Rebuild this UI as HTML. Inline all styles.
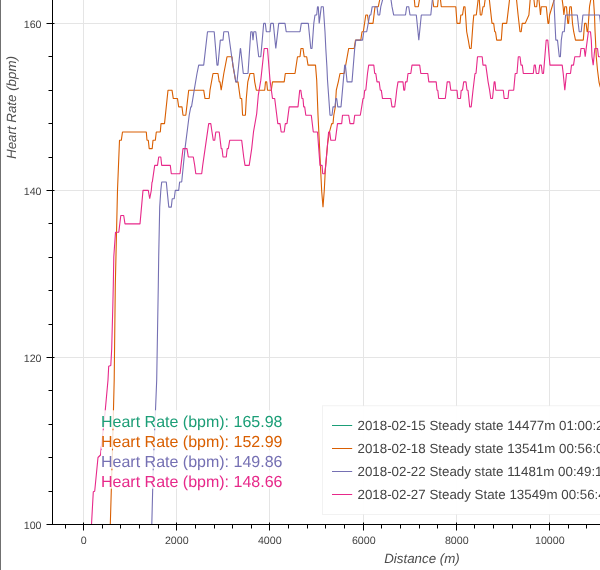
<!DOCTYPE html>
<html><head><meta charset="utf-8"><title>Heart Rate</title>
<style>
html,body{margin:0;padding:0;background:#fff;}
body{width:600px;height:570px;overflow:hidden;position:relative;font-family:"Liberation Sans",sans-serif;}
svg{position:absolute;left:0;top:0;display:block;will-change:transform;}
text{font-family:"Liberation Sans",sans-serif;text-rendering:geometricPrecision;}
</style></head><body>
<svg width="600" height="570" viewBox="0 0 600 570">
<rect x="0" y="0" width="600" height="570" fill="#ffffff"/>
<rect x="0" y="0" width="1" height="570" fill="#707070"/>
<g stroke="#e5e5e5" stroke-width="1" fill="none">
<line x1="83.50" y1="0" x2="83.50" y2="524.5"/>
<line x1="176.50" y1="0" x2="176.50" y2="524.5"/>
<line x1="269.50" y1="0" x2="269.50" y2="524.5"/>
<line x1="363.50" y1="0" x2="363.50" y2="524.5"/>
<line x1="456.50" y1="0" x2="456.50" y2="524.5"/>
<line x1="549.50" y1="0" x2="549.50" y2="524.5"/>
<line x1="642.50" y1="0" x2="642.50" y2="524.5"/>
<line x1="52.5" y1="524.50" x2="600" y2="524.50"/>
<line x1="52.5" y1="357.50" x2="600" y2="357.50"/>
<line x1="52.5" y1="190.50" x2="600" y2="190.50"/>
<line x1="52.5" y1="23.50" x2="600" y2="23.50"/>
</g>
<g fill="none" stroke-width="1.1" stroke-linejoin="bevel" stroke-linecap="butt">
<path d="M110.30,524.50 L112.50,449.00 L114.20,380.00 L115.30,285.00 L117.50,190.00 L119.50,140.31 L121.30,140.31 L122.50,131.96 L146.30,131.96 L147.00,140.31 L148.30,140.31 L149.20,148.66 L152.20,148.66 L153.00,140.31 L155.30,140.31 L156.30,131.96 L160.30,131.96 L161.00,123.60 L164.50,123.60 L168.00,90.20 L172.00,90.20 L173.30,98.55 L177.50,98.55 L178.70,106.90 L182.00,106.90 L183.00,115.25 L185.80,115.25 L188.70,90.20 L203.70,90.20 L205.00,98.55 L209.20,98.55 L210.00,90.20 L213.00,73.49 L218.00,73.49 L219.20,81.84 L220.00,81.84 L221.20,90.20 L222.50,81.84 L223.80,73.49 L227.00,56.79 L232.00,56.79 L232.80,65.14 L235.80,81.84 L238.00,81.84 L240.30,98.55 L241.70,98.55 L242.60,115.25 L245.40,115.25 L246.30,98.55 L247.80,81.84 L250.00,73.49 L253.80,73.49 L254.70,81.84 L256.30,90.20 L264.70,90.20 L265.50,81.84 L266.70,81.84 L267.50,90.20 L271.30,90.20 L272.50,81.84 L284.20,81.84 L285.30,73.49 L295.00,73.49 L297.50,56.79 L300.00,56.79 L301.00,48.44 L303.00,48.44 L304.20,56.79 L306.70,56.79 L308.00,65.14 L315.50,65.14 L316.70,80.00 L318.00,115.00 L321.70,191.30 L323.00,207.12 L324.30,190.00 L325.30,170.00 L327.70,143.00 L329.50,131.96 L331.70,123.60 L333.00,123.60 L333.80,115.25 L335.30,106.90 L336.30,90.20 L338.30,81.84 L340.00,73.49 L344.20,73.49 L348.70,48.44 L354.20,48.44 L355.50,40.08 L360.80,40.08 L362.00,31.73 L363.30,31.73 L365.80,15.03 L367.50,15.03 L368.70,23.38 L373.00,23.38 L375.00,6.68 L378.30,6.68 L380.00,-1.68 L381.00,-14.20 L413.40,-14.20 L414.20,-1.68 L415.00,6.68 L418.30,6.68 L419.70,-1.68 L420.50,-14.20 L431.70,-14.20 L432.50,-1.68 L433.70,6.68 L437.50,6.68 L438.30,-1.68 L439.30,-10.03 L440.30,-1.68 L441.30,6.68 L455.80,6.68 L457.00,23.38 L460.00,23.38 L460.80,15.03 L462.50,15.03 L463.80,6.68 L465.00,6.68 L466.70,31.73 L468.30,40.08 L469.70,48.44 L471.20,48.44 L473.00,23.38 L473.80,15.03 L476.30,15.03 L478.30,-1.68 L478.75,-4.18 L479.20,-1.68 L480.30,15.03 L481.70,15.03 L483.00,6.68 L484.20,6.68 L485.30,-1.68 L486.00,-14.20 L488.50,-14.20 L489.20,-1.68 L492.00,23.38 L493.70,23.38 L494.70,31.73 L495.50,31.73 L496.70,40.08 L501.30,40.08 L502.50,23.38 L506.70,23.38 L509.70,-1.68 L511.00,-14.20 L515.50,-14.20 L516.40,-1.68 L518.10,15.03 L520.00,31.73 L521.20,31.73 L522.20,23.38 L525.20,23.38 L528.90,15.03 L530.30,-1.68 L531.00,-14.20 L533.00,-14.20 L533.80,-1.68 L534.70,6.68 L536.70,6.68 L537.50,-1.68 L538.15,-5.85 L538.80,-1.68 L539.70,6.68 L540.50,15.03 L541.30,6.68 L546.30,6.68 L548.00,23.38 L548.80,23.38 L549.60,15.03 L554.60,-1.68 L555.50,-14.20 L561.00,-14.20 L562.00,-1.68 L563.10,6.68 L563.90,15.03 L564.80,6.68 L566.50,6.68 L567.80,23.38 L568.60,23.38 L569.80,6.68 L571.30,6.68 L572.50,23.38 L573.70,31.73 L575.50,40.08 L583.30,40.08 L584.60,23.38 L586.10,23.38 L587.10,31.73 L587.80,31.73 L589.50,6.68 L591.00,-1.68 L591.60,-14.20 L592.90,-14.20 L593.40,-1.68 L594.50,15.03 L595.00,30.00 L596.30,57.00 L597.50,70.00 L599.00,82.00 L600.00,86.00 L602.00,92.00" stroke="#d95f02"/>
<path d="M151.80,524.50 L153.30,465.00 L156.70,380.00 L158.30,285.00 L158.70,256.70 L159.70,207.12 L160.80,190.42 L161.70,182.07 L166.30,182.07 L167.10,190.42 L168.80,207.12 L171.30,207.12 L172.20,198.77 L174.20,198.77 L175.30,190.42 L178.70,190.42 L179.60,182.07 L181.70,182.07 L185.00,148.66 L189.20,115.25 L190.80,106.90 L191.50,106.90 L194.20,90.20 L197.00,73.49 L198.70,65.14 L203.70,65.14 L207.50,31.73 L214.20,31.73 L217.00,65.14 L218.00,65.14 L220.30,40.08 L223.00,40.08 L223.80,31.73 L228.30,31.73 L231.70,56.79 L235.80,81.84 L237.00,81.84 L240.30,48.44 L240.60,48.44 L243.30,73.49 L248.00,73.49 L250.80,31.73 L252.20,31.73 L253.00,40.08 L253.80,31.73 L255.80,31.73 L258.70,56.79 L260.80,56.79 L263.70,23.38 L265.30,23.38 L266.30,31.73 L270.00,31.73 L270.80,23.38 L273.30,23.38 L275.80,48.44 L278.70,23.38 L285.00,23.38 L286.20,31.73 L300.00,31.73 L301.30,23.38 L308.30,23.38 L310.80,48.44 L312.00,48.44 L313.80,23.38 L315.00,15.03 L316.70,15.03 L317.50,6.68 L318.30,6.68 L319.20,23.38 L321.30,6.68 L323.30,6.68 L325.00,31.73 L325.80,48.44 L326.90,66.70 L327.50,80.00 L330.00,115.25 L332.00,115.25 L333.00,106.90 L335.00,106.90 L335.80,98.55 L336.70,98.55 L337.80,106.90 L341.00,106.90 L344.70,65.14 L345.40,65.14 L347.10,81.84 L352.00,81.84 L354.70,48.44 L355.80,40.08 L362.50,40.08 L363.80,31.73 L366.70,31.73 L369.70,15.03 L370.80,15.03 L372.20,6.68 L377.00,6.68 L378.00,15.03 L379.70,15.03 L380.80,6.68 L383.00,-1.68 L384.00,-14.20 L390.00,-14.20 L390.80,-1.68 L392.00,6.68 L393.70,15.03 L405.50,15.03 L406.70,6.68 L408.70,6.68 L410.00,15.03 L416.30,15.03 L418.00,31.73 L418.80,40.08 L421.30,15.03 L430.80,15.03 L432.50,-1.68 L433.30,-14.20 L553.20,-14.20 L553.80,-1.68 L555.00,23.38 L555.80,40.08 L557.50,40.08 L559.30,56.79 L560.40,56.79 L561.30,40.08 L562.50,31.73 L564.30,31.73 L565.60,15.03 L577.30,15.03 L579.20,31.73 L581.20,31.73 L582.90,15.03 L599.50,15.03 L600.50,23.38 L602.00,23.38" stroke="#7570b3"/>
<path d="M91.50,524.50 L93.30,491.70 L94.70,491.20 L98.00,457.50 L100.50,455.00 L105.00,413.00 L108.00,380.00 L108.70,366.30 L110.80,365.50 L111.70,349.00 L112.80,306.70 L113.30,285.00 L113.80,256.70 L115.50,232.18 L118.80,232.18 L120.80,215.48 L123.70,215.48 L125.00,223.83 L140.00,223.83 L143.00,190.42 L148.30,190.42 L149.70,198.77 L151.30,190.42 L152.00,182.07 L152.30,182.07 L154.70,165.36 L157.50,165.36 L158.70,157.01 L160.80,157.01 L161.70,165.36 L170.30,165.36 L171.30,173.72 L180.00,173.72 L183.00,148.66 L187.00,148.66 L188.30,157.01 L193.30,157.01 L194.70,165.36 L195.80,173.72 L201.70,173.72 L202.70,165.36 L208.70,123.60 L210.80,123.60 L212.00,131.96 L213.30,140.31 L214.70,140.31 L215.80,131.96 L219.20,131.96 L221.20,148.66 L222.00,148.66 L223.00,157.01 L226.30,157.01 L227.20,148.66 L228.30,148.66 L229.70,140.31 L241.70,140.31 L243.70,157.01 L245.00,165.36 L249.20,165.36 L251.70,148.66 L253.50,131.96 L256.70,113.58 L258.30,95.21 L260.80,80.17 L264.20,48.44 L267.50,48.44 L270.00,80.17 L272.50,98.55 L274.70,98.55 L277.80,123.60 L280.00,123.60 L281.20,131.96 L284.20,131.96 L285.30,123.60 L287.00,123.60 L289.20,106.90 L298.00,106.90 L299.70,90.20 L300.80,90.20 L302.00,98.55 L303.00,98.55 L303.70,106.90 L304.70,106.90 L305.80,115.25 L311.30,115.25 L313.30,131.96 L317.50,131.96 L320.00,165.36 L322.10,165.36 L322.70,173.72 L324.70,173.72 L325.70,165.36 L328.60,131.96 L329.70,131.96 L330.80,140.31 L335.30,140.31 L337.50,123.60 L341.70,123.60 L342.50,115.25 L348.70,115.25 L350.00,123.60 L353.70,123.60 L354.70,115.25 L360.30,115.25 L361.70,106.90 L363.00,98.55 L363.80,98.55 L364.70,90.20 L365.80,90.20 L367.50,73.49 L368.70,65.14 L373.80,65.14 L374.70,73.49 L375.80,73.49 L377.00,81.84 L379.20,81.84 L380.30,90.20 L381.30,90.20 L382.50,98.55 L390.80,98.55 L392.00,106.90 L394.70,106.90 L395.80,98.55 L396.70,90.20 L398.00,81.84 L403.00,81.84 L403.80,90.20 L404.70,90.20 L405.50,81.84 L407.00,81.84 L408.00,73.49 L410.80,73.49 L412.00,65.14 L419.70,65.14 L420.80,73.49 L427.80,73.49 L428.80,81.84 L436.20,81.84 L437.00,90.20 L437.80,90.20 L438.70,98.55 L445.30,98.55 L447.20,81.84 L449.70,81.84 L450.80,90.20 L457.00,90.20 L457.80,98.55 L460.50,98.55 L461.20,90.20 L462.50,90.20 L463.70,81.84 L466.00,81.84 L467.00,90.20 L468.00,90.20 L469.70,106.90 L471.20,106.90 L473.00,90.20 L475.00,73.49 L476.00,73.49 L477.50,56.79 L482.20,56.79 L483.00,65.14 L485.80,65.14 L488.10,81.84 L489.60,90.20 L490.80,98.55 L492.50,98.55 L494.20,81.84 L495.00,81.84 L495.80,90.20 L503.30,90.20 L504.20,98.55 L508.00,98.55 L508.80,90.20 L513.70,90.20 L515.20,73.49 L517.00,73.49 L518.30,56.79 L520.00,56.79 L521.00,65.14 L522.30,65.14 L523.30,73.49 L533.30,73.49 L534.20,65.14 L535.30,65.14 L536.30,73.49 L538.70,73.49 L539.70,65.14 L541.30,65.14 L542.30,73.49 L543.50,73.49 L546.20,40.08 L547.80,40.08 L549.20,56.79 L550.00,65.14 L562.20,65.14 L563.20,73.49 L564.80,90.20 L566.50,73.49 L570.50,73.49 L571.50,65.14 L573.50,65.14 L574.80,56.79 L580.00,56.79 L581.00,48.44 L584.20,48.44 L585.20,56.79 L586.20,48.44 L588.40,31.73 L590.50,31.73 L591.30,40.08 L592.00,56.79 L593.20,65.14 L594.80,48.44 L597.50,48.44 L598.50,56.79 L602.00,56.79" stroke="#e7298a"/>
</g>

<rect x="322.5" y="405.75" width="300" height="108.75" fill="#ffffff" fill-opacity="0.95" stroke="#e5e5e5" stroke-opacity="0.5" stroke-width="1"/>
<line x1="332" y1="425.50" x2="352.2" y2="425.50" stroke="#1b9e77" stroke-width="1"/>
<text x="357.5" y="430.35" font-size="13.33" fill="#444444">2018-02-15 Steady state 14477m 01:00:23</text>
<line x1="332" y1="448.50" x2="352.2" y2="448.50" stroke="#d95f02" stroke-width="1"/>
<text x="357.5" y="453.35" font-size="13.33" fill="#444444">2018-02-18 Steady state 13541m 00:56:05</text>
<line x1="332" y1="471.50" x2="352.2" y2="471.50" stroke="#7570b3" stroke-width="1"/>
<text x="357.5" y="476.35" font-size="13.33" fill="#444444">2018-02-22 Steady state 11481m 00:49:16</text>
<line x1="332" y1="494.50" x2="352.2" y2="494.50" stroke="#e7298a" stroke-width="1"/>
<text x="357.5" y="499.35" font-size="13.33" fill="#444444">2018-02-27 Steady State 13549m 00:56:44</text>
<g stroke="#000" stroke-width="1" fill="none">
<line x1="52.5" y1="0" x2="52.5" y2="524.5"/>
<line x1="52.5" y1="524.5" x2="600" y2="524.5"/>
<line x1="65.50" y1="524.5" x2="65.50" y2="528.5"/>
<line x1="83.50" y1="522.5" x2="83.50" y2="530.5"/>
<line x1="102.50" y1="524.5" x2="102.50" y2="528.5"/>
<line x1="120.50" y1="524.5" x2="120.50" y2="528.5"/>
<line x1="139.50" y1="524.5" x2="139.50" y2="528.5"/>
<line x1="158.50" y1="524.5" x2="158.50" y2="528.5"/>
<line x1="176.50" y1="522.5" x2="176.50" y2="530.5"/>
<line x1="195.50" y1="524.5" x2="195.50" y2="528.5"/>
<line x1="214.50" y1="524.5" x2="214.50" y2="528.5"/>
<line x1="232.50" y1="524.5" x2="232.50" y2="528.5"/>
<line x1="251.50" y1="524.5" x2="251.50" y2="528.5"/>
<line x1="269.50" y1="522.5" x2="269.50" y2="530.5"/>
<line x1="288.50" y1="524.5" x2="288.50" y2="528.5"/>
<line x1="307.50" y1="524.5" x2="307.50" y2="528.5"/>
<line x1="325.50" y1="524.5" x2="325.50" y2="528.5"/>
<line x1="344.50" y1="524.5" x2="344.50" y2="528.5"/>
<line x1="363.50" y1="522.5" x2="363.50" y2="530.5"/>
<line x1="381.50" y1="524.5" x2="381.50" y2="528.5"/>
<line x1="400.50" y1="524.5" x2="400.50" y2="528.5"/>
<line x1="419.50" y1="524.5" x2="419.50" y2="528.5"/>
<line x1="437.50" y1="524.5" x2="437.50" y2="528.5"/>
<line x1="456.50" y1="522.5" x2="456.50" y2="530.5"/>
<line x1="474.50" y1="524.5" x2="474.50" y2="528.5"/>
<line x1="493.50" y1="524.5" x2="493.50" y2="528.5"/>
<line x1="512.50" y1="524.5" x2="512.50" y2="528.5"/>
<line x1="530.50" y1="524.5" x2="530.50" y2="528.5"/>
<line x1="549.50" y1="522.5" x2="549.50" y2="530.5"/>
<line x1="568.50" y1="524.5" x2="568.50" y2="528.5"/>
<line x1="586.50" y1="524.5" x2="586.50" y2="528.5"/>
<line x1="605.50" y1="524.5" x2="605.50" y2="528.5"/>
<line x1="46.5" y1="524.50" x2="54.5" y2="524.50"/>
<line x1="48.5" y1="491.50" x2="52.5" y2="491.50"/>
<line x1="48.5" y1="457.50" x2="52.5" y2="457.50"/>
<line x1="48.5" y1="424.50" x2="52.5" y2="424.50"/>
<line x1="48.5" y1="390.50" x2="52.5" y2="390.50"/>
<line x1="46.5" y1="357.50" x2="54.5" y2="357.50"/>
<line x1="48.5" y1="324.50" x2="52.5" y2="324.50"/>
<line x1="48.5" y1="290.50" x2="52.5" y2="290.50"/>
<line x1="48.5" y1="257.50" x2="52.5" y2="257.50"/>
<line x1="48.5" y1="223.50" x2="52.5" y2="223.50"/>
<line x1="46.5" y1="190.50" x2="54.5" y2="190.50"/>
<line x1="48.5" y1="157.50" x2="52.5" y2="157.50"/>
<line x1="48.5" y1="123.50" x2="52.5" y2="123.50"/>
<line x1="48.5" y1="90.50" x2="52.5" y2="90.50"/>
<line x1="48.5" y1="56.50" x2="52.5" y2="56.50"/>
<line x1="46.5" y1="23.50" x2="54.5" y2="23.50"/>
</g>
<g font-size="10.67" fill="#444444">
<text x="83.80" y="544" text-anchor="middle">0</text>
<text x="176.80" y="544" text-anchor="middle">2000</text>
<text x="269.80" y="544" text-anchor="middle">4000</text>
<text x="363.80" y="544" text-anchor="middle">6000</text>
<text x="456.80" y="544" text-anchor="middle">8000</text>
<text x="549.80" y="544" text-anchor="middle">10000</text>
<text x="642.80" y="544" text-anchor="middle">12000</text>
<text x="41.5" y="528.70" text-anchor="end">100</text>
<text x="41.5" y="361.70" text-anchor="end">120</text>
<text x="41.5" y="194.70" text-anchor="end">140</text>
<text x="41.5" y="27.70" text-anchor="end">160</text>
</g>
<text x="422" y="563" font-size="13.33" font-style="italic" fill="#4c4c4c" text-anchor="middle">Distance (m)</text>
<text transform="translate(16.2,107.5) rotate(-90)" font-size="13.33" font-style="italic" fill="#505050" text-anchor="middle">Heart Rate (bpm)</text>
<rect x="101" y="410.30" width="181" height="18.4" fill="#ffffff" fill-opacity="0.8"/>
<text x="101" y="427.00" font-size="16" fill="#1b9e77">Heart Rate (bpm): 165.98</text>
<rect x="101" y="430.30" width="181" height="18.4" fill="#ffffff" fill-opacity="0.8"/>
<text x="101" y="447.00" font-size="16" fill="#d95f02">Heart Rate (bpm): 152.99</text>
<rect x="101" y="450.30" width="181" height="18.4" fill="#ffffff" fill-opacity="0.8"/>
<text x="101" y="467.00" font-size="16" fill="#7570b3">Heart Rate (bpm): 149.86</text>
<rect x="101" y="470.30" width="181" height="18.4" fill="#ffffff" fill-opacity="0.8"/>
<text x="101" y="487.00" font-size="16" fill="#e7298a">Heart Rate (bpm): 148.66</text>
</svg>
</body></html>
